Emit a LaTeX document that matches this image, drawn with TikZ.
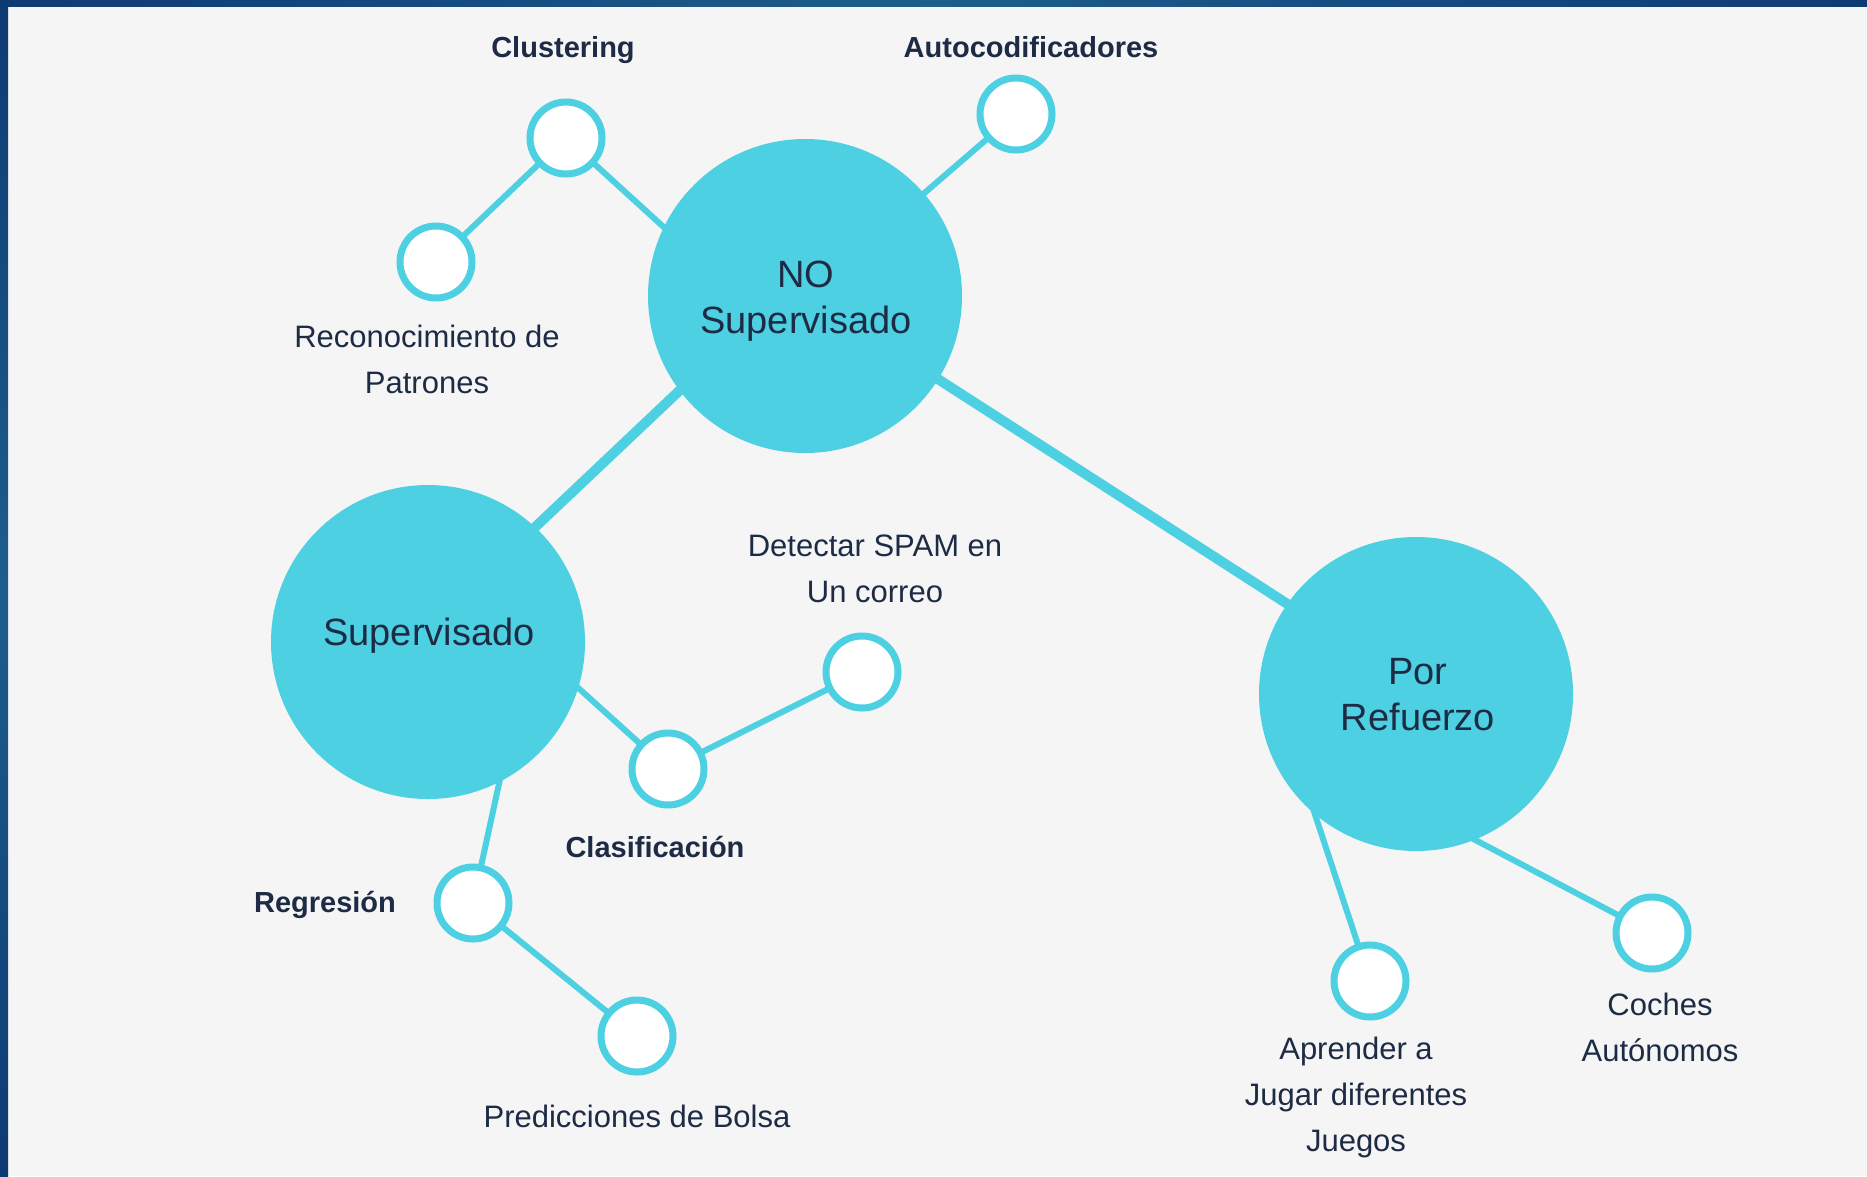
\documentclass[tikz,border=0pt]{standalone}
\usepackage{fontspec}
\setmainfont{Liberation Sans}
\definecolor{cy}{HTML}{4DD0E1}
\definecolor{ink}{HTML}{1E2B45}
\definecolor{bgc}{HTML}{F5F5F5}
\definecolor{navyD}{HTML}{0E3A73}
\definecolor{navyL}{HTML}{1D5E8C}
\pgfdeclarelayer{canvasl}
\pgfdeclarelayer{back}
\pgfsetlayers{canvasl,back,main}
\begin{document}
\begin{tikzpicture}[x=1pt,y=-1pt,
  bigc/.style={circle,fill=cy,minimum size=314pt,inner sep=0pt},
  smallc/.style={circle,draw=cy,line width=7pt,fill=white,minimum size=72pt,inner sep=0pt},
  mainlink/.style={draw=cy,line width=10pt},
  sublink/.style={draw=cy,line width=6pt},
  bigtxt/.style={text=ink,font=\fontsize{38}{46}\selectfont,align=center,inner sep=0pt,anchor=base},
  txt/.style={text=ink,font=\fontsize{31}{46}\selectfont,align=center,inner sep=0pt,anchor=base},
  btxt/.style={text=ink,font=\fontsize{29}{40}\selectfont\bfseries,align=center,inner sep=0pt,anchor=base}]
\useasboundingbox (0,0) rectangle (1867,1176);
\begin{pgfonlayer}{canvasl}
\fill[bgc] (0,0) rectangle (1867,1176);
\shade[left color=navyD,right color=navyD,middle color=navyL] (0,0) rectangle (1867,6);
\shade[top color=navyD,bottom color=navyD,middle color=navyL] (0,0) rectangle (8,1176);
\end{pgfonlayer}

% main circles
\node[bigc] (ns) at (805,296) {};
\node[bigc] (sup) at (428,642) {};
\node[bigc] (pr) at (1416,694) {};

% small circles
\node[smallc] (clu) at (566,138) {};
\node[smallc] (rec) at (436,262) {};
\node[smallc] (aut) at (1016,114) {};
\node[smallc] (det) at (862,672) {};
\node[smallc] (cla) at (668,769) {};
\node[smallc] (reg) at (473,903) {};
\node[smallc] (pre) at (637,1036) {};
\node[smallc] (apr) at (1370,981) {};
\node[smallc] (coc) at (1652,933) {};

% connectors
\begin{pgfonlayer}{back}
\draw[mainlink,shorten <=-10pt,shorten >=-10pt] (ns.217) -- (sup.47);
\draw[mainlink,shorten <=-10pt,shorten >=-10pt] (ns.-32) -- (pr.145);
\draw[sublink,shorten >=-8pt] (clu.center) -- (ns.154);
\draw[sublink] (rec.center) -- (clu.center);
\draw[sublink] (aut.center) -- (ns.center);
\draw[sublink,shorten <=-8pt] (sup.-17) -- (cla.center);
\draw[sublink] (cla.center) -- (det.center);
\draw[sublink,shorten <=-8pt] (sup.-63) -- (reg.center);
\draw[sublink] (reg.center) -- (pre.center);
\draw[sublink,shorten <=-8pt] (pr.230) -- (apr.center);
\draw[sublink,shorten <=-8pt] (pr.-68) -- (coc.center);
\end{pgfonlayer}

% texts (anchor base = baseline of the last line)
\node[bigtxt] (tns) at (806,333) {NO\\Supervisado};
\node[bigtxt] (tsup) at (429,645) {Supervisado};
\node[bigtxt] (tpr) at (1418,730) {Por\\Refuerzo};

\node[btxt] (tclu) at (563,57) {Clustering};
\node[btxt] (taut) at (1031,57) {Autocodificadores};
\node[btxt] (tcla) at (655,857) {Clasificación};
\node[btxt] (treg) at (325,912) {Regresión};

\node[txt] (trec) at (427,393) {Reconocimiento de\\Patrones};
\node[txt] (tdet) at (875,602) {Detectar SPAM en\\Un correo};
\node[txt] (tpre) at (637,1127) {Predicciones de Bolsa};
\node[txt] (tapr) at (1356,1151) {Aprender a\\Jugar diferentes\\Juegos};
\node[txt] (tcoc) at (1660,1061) {Coches\\Autónomos};
\end{tikzpicture}
\end{document}
